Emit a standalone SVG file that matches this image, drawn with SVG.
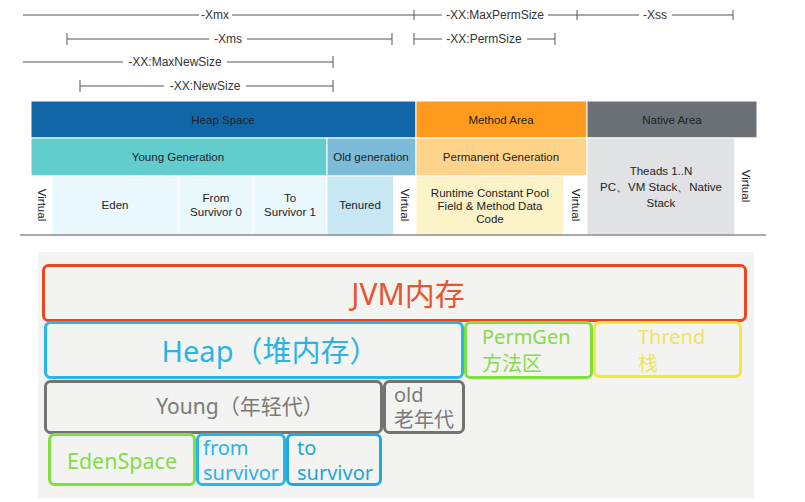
<svg xmlns="http://www.w3.org/2000/svg" width="805" height="502" viewBox="0 0 805 502">
<style>
.dim{stroke:#555;stroke-width:1;fill:none}
.dt{font-family:"Liberation Sans",Arial,sans-serif;font-size:12px;fill:#333;text-anchor:middle}
.tt{font-family:"Liberation Sans",Arial,sans-serif;font-size:11.5px;fill:#222;text-anchor:middle}
.cell{stroke:#ffffff;stroke-width:1}
.bx{fill:none;stroke-width:3}
.bt{font-family:"Noto Sans","Noto Sans CJK SC",sans-serif}
</style>
<rect width="805" height="502" fill="#ffffff"/>
<g id="dimensions">
  <g id="dim-xmx"><line class="dim" x1="23" y1="15" x2="199" y2="15"/><line class="dim" x1="232" y1="15" x2="414" y2="15"/><text class="dt" x="215" y="19">-Xmx</text></g>
  <g id="dim-maxperm"><line class="dim" x1="414" y1="15" x2="442" y2="15"/><line class="dim" x1="548" y1="15" x2="577" y2="15"/><line class="dim" x1="414" y1="10" x2="414" y2="20"/><text class="dt" x="495" y="19">-XX:MaxPermSize</text></g>
  <g id="dim-xss"><line class="dim" x1="577" y1="15" x2="639" y2="15"/><line class="dim" x1="672" y1="15" x2="733" y2="15"/><line class="dim" x1="577" y1="10" x2="577" y2="20"/><line class="dim" x1="733" y1="10" x2="733" y2="20"/><text class="dt" x="655" y="19">-Xss</text></g>
  <g id="dim-xms"><line class="dim" x1="67" y1="39" x2="209" y2="39"/><line class="dim" x1="247" y1="39" x2="392" y2="39"/><line class="dim" x1="67" y1="33" x2="67" y2="45"/><line class="dim" x1="392" y1="33" x2="392" y2="45"/><text class="dt" x="228" y="43">-Xms</text></g>
  <g id="dim-permsize"><line class="dim" x1="414" y1="39" x2="442" y2="39"/><line class="dim" x1="527" y1="39" x2="555" y2="39"/><line class="dim" x1="414" y1="33" x2="414" y2="45"/><line class="dim" x1="555" y1="33" x2="555" y2="45"/><text class="dt" x="484" y="43">-XX:PermSize</text></g>
  <g id="dim-maxnew"><line class="dim" x1="23" y1="62" x2="123" y2="62"/><line class="dim" x1="227" y1="62" x2="333" y2="62"/><line class="dim" x1="333" y1="56" x2="333" y2="68"/><text class="dt" x="175" y="66">-XX:MaxNewSize</text></g>
  <g id="dim-newsize"><line class="dim" x1="80" y1="86" x2="164" y2="86"/><line class="dim" x1="246" y1="86" x2="333" y2="86"/><line class="dim" x1="80" y1="80" x2="80" y2="92"/><line class="dim" x1="333" y1="80" x2="333" y2="92"/><text class="dt" x="205" y="90">-XX:NewSize</text></g>
</g>
<g id="table">
  <g id="heap-space"><rect class="cell" x="31" y="101" width="385" height="37" fill="#1166a8"/><text class="tt" x="223" y="124" fill="#0b2550">Heap Space</text></g>
  <g id="method-area"><rect class="cell" x="416" y="101" width="171" height="37" fill="#ff9a1c"/><text class="tt" x="501" y="124" fill="#5a2a00">Method Area</text></g>
  <g id="native-area"><rect class="cell" x="587" y="101" width="170" height="37" fill="#6b7076"/><text class="tt" x="672" y="124" fill="#1a1d22">Native Area</text></g>
  <g id="young-gen"><rect class="cell" x="31" y="138" width="296" height="38" fill="#63cdcd"/><text class="tt" x="178" y="161" fill="#113344">Young Generation</text></g>
  <g id="old-gen"><rect class="cell" x="327" y="138" width="89" height="38" fill="#7cbcd8"/><text class="tt" x="371" y="161" fill="#113344">Old generation</text></g>
  <g id="perm-gen"><rect class="cell" x="416" y="138" width="171" height="38" fill="#ffd38a"/><text class="tt" x="501" y="161" fill="#4a3000">Permanent Generation</text></g>
  <g id="virtual-1"><rect class="cell" x="31" y="176" width="21" height="59" fill="#ffffff"/><text class="tt" transform="translate(37.5,205) rotate(90)">Virtual</text></g>
  <g id="eden"><rect class="cell" x="52" y="176" width="127" height="59" fill="#e9f8fc"/><text class="tt" x="115" y="209">Eden</text></g>
  <g id="from-survivor"><rect class="cell" x="179" y="176" width="74" height="59" fill="#e9f8fc"/><text class="tt" x="216" y="202">From</text><text class="tt" x="216" y="216">Survivor 0</text></g>
  <g id="to-survivor"><rect class="cell" x="253" y="176" width="74" height="59" fill="#e9f8fc"/><text class="tt" x="290" y="202">To</text><text class="tt" x="290" y="216">Survivor 1</text></g>
  <g id="tenured"><rect class="cell" x="327" y="176" width="67" height="59" fill="#c8e7f4"/><text class="tt" x="360" y="209">Tenured</text></g>
  <g id="virtual-2"><rect class="cell" x="394" y="176" width="22" height="59" fill="#ffffff"/><text class="tt" transform="translate(401,205) rotate(90)">Virtual</text></g>
  <g id="runtime-pool"><rect class="cell" x="416" y="176" width="148" height="59" fill="#fcf3c8"/><text class="tt" x="490" y="197" fill="#4a3000">Runtime Constant Pool</text><text class="tt" x="490" y="210" fill="#4a3000">Field &amp; Method Data</text><text class="tt" x="490" y="223" fill="#4a3000">Code</text></g>
  <g id="virtual-3"><rect class="cell" x="564" y="176" width="23" height="59" fill="#ffffff"/><text class="tt" transform="translate(572,205) rotate(90)">Virtual</text></g>
  <g id="threads"><rect class="cell" x="587" y="138" width="148" height="97" fill="#e1e2e5"/><text class="tt" x="661" y="175">Theads 1..N</text><text class="tt" x="661" y="191">PC、VM Stack、Native</text><text class="tt" x="661" y="207">Stack</text></g>
  <g id="virtual-4"><rect class="cell" x="735" y="138" width="22" height="97" fill="#ffffff"/><text class="tt" transform="translate(742,186) rotate(90)">Virtual</text></g>
  <line x1="20" y1="235" x2="766" y2="235" stroke="#555" stroke-width="1"/>
</g>
<rect x="38" y="252" width="716" height="246" fill="#f3f3f1"/>
<g id="jvm"><rect class="bx" x="43.5" y="265.5" width="702" height="55" rx="5" stroke="#ee4420"/><text class="bt" x="408" y="305" font-size="30" fill="#e6552f" text-anchor="middle">JVM内存</text></g>
<g id="heap"><rect class="bx" x="45.5" y="322.5" width="417" height="55" rx="5" stroke="#27b6ea"/><text class="bt" x="270" y="362" font-size="29" fill="#2ab4e6" text-anchor="middle">Heap（堆内存）</text></g>
<g id="permgen"><rect class="bx" x="465.5" y="322.5" width="126" height="55" rx="5" stroke="#7ee03c"/><text class="bt" x="482" y="344" font-size="20" fill="#84dc48">PermGen</text><text class="bt" x="482" y="371" font-size="20" fill="#84dc48">方法区</text></g>
<g id="thrend"><rect class="bx" x="594.5" y="322.5" width="146" height="54" rx="5" stroke="#f4e83a"/><text class="bt" x="638" y="344" font-size="20" fill="#f0e35a">Thrend</text><text class="bt" x="638" y="371" font-size="20" fill="#f0e35a">栈</text></g>
<g id="young"><rect class="bx" x="45.5" y="381.5" width="336" height="51" rx="5" stroke="#737373"/><text class="bt" x="240" y="414" font-size="21" fill="#7a7a7a" text-anchor="middle">Young（年轻代）</text></g>
<g id="old"><rect class="bx" x="384.5" y="381.5" width="79" height="51" rx="5" stroke="#737373"/><text class="bt" x="394" y="402" font-size="20" fill="#7a7a7a">old</text><text class="bt" x="394" y="427" font-size="20" fill="#7a7a7a">老年代</text></g>
<g id="edenspace"><rect class="bx" x="49.5" y="434.5" width="145" height="50" rx="5" stroke="#7ee03c"/><text class="bt" x="122" y="469" font-size="21.5" fill="#84dc48" text-anchor="middle">EdenSpace</text></g>
<g id="from"><rect class="bx" x="197.5" y="434.5" width="87" height="50" rx="5" stroke="#27b6ea"/><text class="bt" x="203" y="455" font-size="20" fill="#2ab4e6">from</text><text class="bt" x="203" y="480" font-size="20" fill="#2ab4e6">survivor</text></g>
<g id="to"><rect class="bx" x="287.5" y="434.5" width="93" height="50" rx="5" stroke="#1fa9dc"/><text class="bt" x="297" y="455" font-size="20" fill="#1fa6d6">to</text><text class="bt" x="297" y="480" font-size="20" fill="#1fa6d6">survivor</text></g>
</svg>
